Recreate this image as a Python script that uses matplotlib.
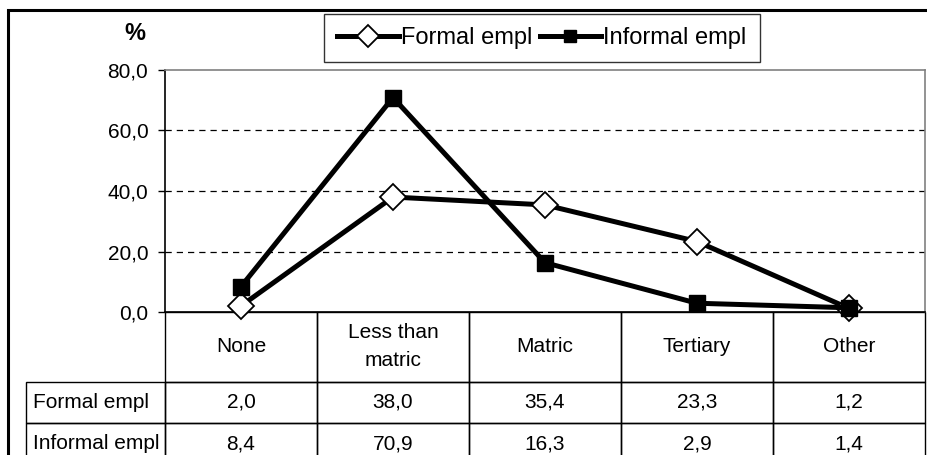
import matplotlib
matplotlib.use("Agg")
import matplotlib.pyplot as plt
from matplotlib.patches import Rectangle

plt.rcParams["font.family"] = ["Liberation Sans", "DejaVu Sans"]

# data
categories = ["None", "Less than\nmatric", "Matric", "Tertiary", "Other"]
series_names = ["Formal empl", "Informal empl"]
formal = [2.0, 38.0, 35.4, 23.3, 1.2]
informal = [8.4, 70.9, 16.3, 2.9, 1.4]
yticks = [0, 20, 40, 60, 80]


def fmt(v):
    return f"{v:.1f}".replace(".", ",")


W, H = 928, 455
fig = plt.figure(figsize=(W / 100, H / 100), dpi=100)

# plot area in pixels
px_left, px_right, px_top, px_bottom = 165, 925, 70, 312
ax_w = px_right - px_left
ax_h = px_bottom - px_top
ax = fig.add_axes([px_left / W, 1 - px_bottom / H, ax_w / W, ax_h / H])

x = list(range(len(categories)))
ax.plot(x, formal, color="black", lw=3.6, marker="D", ms=13,
        mfc="white", mec="black", mew=1.3, label=series_names[0],
        zorder=5, clip_on=False)
ax.plot(x, informal, color="black", lw=3.6, marker="s", ms=11,
        mfc="black", mec="black", label=series_names[1],
        zorder=6, clip_on=False)

ax.set_xlim(-0.5, len(categories) - 0.5)
ax.set_ylim(0, 80)
ax.set_xticks([])
ax.set_yticks(yticks)
ax.set_yticklabels([fmt(v) for v in yticks], fontsize=15)
ax.tick_params(axis="y", length=5, width=1, pad=7)
for v in yticks[1:-1]:
    ax.axhline(v, color="black", lw=0.9, ls=(0, (5, 4)), zorder=1)

ax.spines["left"].set_color("black")
ax.spines["bottom"].set_color("black")
ax.spines["top"].set_color("#808080")
ax.spines["right"].set_color("#808080")
for s in ax.spines.values():
    s.set_linewidth(1.2)

ax.text((135 - px_left) / ax_w, (px_bottom - 33) / ax_h, "%",
        transform=ax.transAxes, fontsize=17, fontweight="bold",
        ha="center", va="center")

leg = ax.legend(loc="center", bbox_to_anchor=((542 - px_left) / ax_w,
                                              (px_bottom - 38) / ax_h),
                ncol=2, frameon=True, fancybox=False, edgecolor="black",
                fontsize=17, handlelength=2.6, columnspacing=0.3,
                handletextpad=0.1, borderpad=0.55, markerscale=0.85)
leg.get_frame().set_linewidth(1.0)
leg.set_zorder(7)

# data table under the axis
head_h, row_h = 70, 41
total_h = head_h + 2 * row_h
tab = ax.table(cellText=[[fmt(v) for v in formal], [fmt(v) for v in informal]],
               rowLabels=series_names, colLabels=categories,
               cellLoc="center", rowLoc="left", colLoc="center",
               bbox=[0, -total_h / ax_h, 1, total_h / ax_h])
tab.auto_set_font_size(False)
tab.set_fontsize(15)
tab.set_zorder(2)
for (r, c), cell in tab.get_celld().items():
    cell.set_linewidth(1.0)
    cell.set_edgecolor("black")
    cell.set_facecolor("none")
    cell.set_height((head_h if r == 0 else row_h) / ax_h)
    if r == 0:
        cell.get_text().set_linespacing(1.6)
    if c == -1:
        cell.PAD = 0.05

# outer chart frame
fig.patches.append(Rectangle((8 / W, -0.05), 1.2, 1 - 10 / H + 0.05,
                             transform=fig.transFigure, fill=False,
                             edgecolor="black", lw=2.2))

fig.savefig("out.png", dpi=100)
